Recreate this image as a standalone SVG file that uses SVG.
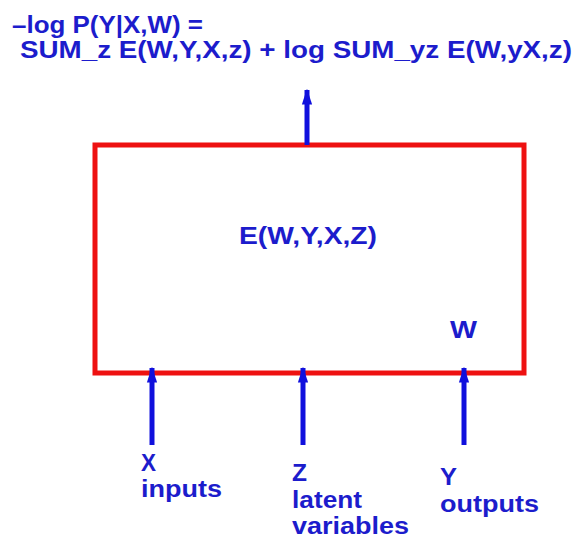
<svg xmlns="http://www.w3.org/2000/svg" width="579" height="538" viewBox="0 0 579 538">
<style>
text{font-family:"Liberation Sans",Arial,sans-serif;font-weight:bold;fill:#1c1ccc;font-size:23px}
.t{font-size:24px}
.c{stroke:#1010dd;stroke-width:5;fill:none}
</style>
<defs>
<marker id="ah" markerUnits="userSpaceOnUse" markerWidth="16" markerHeight="22" refX="20" refY="8" orient="auto" viewBox="0 0 22 16">
<path d="M0,1 L22,8 L0,15 Z" fill="#1010dd"/>
</marker>
</defs>
<rect width="579" height="538" fill="#fff"/>
<g id="title">
<text x="12" y="33" textLength="191" lengthAdjust="spacingAndGlyphs">–log P(Y|X,W) =</text>
<text class="t" x="20" y="58" textLength="552" lengthAdjust="spacingAndGlyphs">SUM_z E(W,Y,X,z) + log SUM_yz E(W,yX,z)</text>
</g>
<g id="box">
<rect x="95" y="145" width="429" height="228" fill="none" stroke="#ee1111" stroke-width="5"/>
<text x="239" y="244" textLength="138" lengthAdjust="spacingAndGlyphs">E(W,Y,X,Z)</text>
<text x="450" y="338" textLength="27" lengthAdjust="spacingAndGlyphs">W</text>
</g>
<g id="connectors">
<line class="c" x1="307" y1="145" x2="307" y2="90" marker-end="url(#ah)"/>
<line class="c" x1="152" y1="445" x2="152" y2="368" marker-end="url(#ah)"/>
<line class="c" x1="303" y1="445" x2="303" y2="368" marker-end="url(#ah)"/>
<line class="c" x1="464" y1="445" x2="464" y2="368" marker-end="url(#ah)"/>
</g>
<g id="x-label">
<text x="141" y="471" textLength="15" lengthAdjust="spacingAndGlyphs">X</text>
<text x="141" y="497" textLength="81" lengthAdjust="spacingAndGlyphs">inputs</text>
</g>
<g id="z-label">
<text x="292" y="481" textLength="15" lengthAdjust="spacingAndGlyphs">Z</text>
<text x="292" y="508" textLength="70" lengthAdjust="spacingAndGlyphs">latent</text>
<text x="292" y="534" textLength="117" lengthAdjust="spacingAndGlyphs">variables</text>
</g>
<g id="y-label">
<text x="440" y="485" textLength="17" lengthAdjust="spacingAndGlyphs">Y</text>
<text x="440" y="512" textLength="99" lengthAdjust="spacingAndGlyphs">outputs</text>
</g>
</svg>
